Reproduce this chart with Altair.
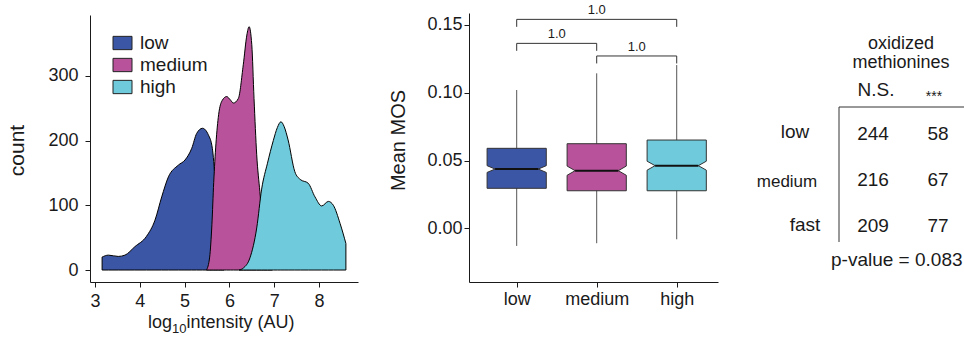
import json
import altair as alt
import pandas as pd

FONT = "Liberation Sans"
W, H = 964, 337
INK = "#1a1a1a"

# ---------------- data ----------------
groups = ["low", "medium", "high"]
group_colors = ["#3C56A6", "#B8529B", "#6FCBDC"]

# density curves (count vs log10 intensity)
low_x = [3.16, 3.30, 3.52, 3.67, 3.89, 4.15, 4.34, 4.49, 4.64, 4.86, 5.01, 5.16, 5.27, 5.40, 5.53, 5.62, 5.68, 5.74, 5.80, 5.88]
low_y = [20, 23, 21, 23, 36, 52, 77, 113, 144, 162, 170, 188, 211, 219, 209, 188, 140, 70, 20, 0]
med_x = [5.49, 5.56, 5.61, 5.65, 5.70, 5.76, 5.84, 5.94, 6.02, 6.09, 6.20, 6.31, 6.39, 6.44, 6.50, 6.55, 6.61, 6.68, 6.76, 6.86, 6.96]
med_y = [0, 20, 70, 135, 195, 240, 262, 268, 263, 258, 265, 317, 363, 376, 348, 265, 178, 121, 55, 15, 0]
high_x = [6.22, 6.31, 6.46, 6.61, 6.72, 6.85, 6.98, 7.07, 7.15, 7.22, 7.31, 7.46, 7.58, 7.76, 7.91, 8.06, 8.21, 8.32, 8.47, 8.60]
high_y = [0, 3, 19, 65, 125, 165, 200, 220, 229, 222, 201, 152, 140, 134, 113, 99, 106, 100, 72, 41]

# notched box plot of mean MOS
box_q1 = [0.0295, 0.0277, 0.0277]
box_median = [0.0437, 0.0425, 0.0462]
box_q3 = [0.0590, 0.0624, 0.0651]
notch_lo = [0.0412, 0.0391, 0.0429]
notch_hi = [0.0462, 0.0459, 0.0495]
whisker_lo = [-0.0130, -0.0110, -0.0081]
whisker_hi = [0.1020, 0.1143, 0.1204]

# significance brackets
bracket_from = ["low", "medium", "low"]
bracket_to = ["medium", "high", "high"]
bracket_level = [0.1364, 0.1271, 0.1541]
bracket_label = ["1.0", "1.0", "1.0"]

# contingency table
table_title = ["oxidized", "methionines"]
table_cols = ["N.S.", "***"]
table_rows = ["low", "medium", "fast"]
counts_ns = [244, 216, 209]
counts_ox = [58, 67, 77]
p_value = 0.083

# ---------------- helpers ----------------
def qscale(domain, rng):
    return alt.Scale(domain=domain, range=rng, nice=False, zero=False)

color_scale = alt.Scale(domain=groups, range=group_colors)
AX = dict(grid=False, domainColor=INK, domainWidth=1, tickColor=INK, tickWidth=1, tickSize=5,
          labelColor=INK, labelFont=FONT, labelFontSize=18, labelFlush=False, labelOverlap=False,
          titleFont=FONT, titleFontWeight="normal", titleColor=INK)
one = pd.DataFrame({"k": [0]})
layers = []

# ---------------- panel 1: density ----------------
P1_XD, P1_XR = [2.89, 8.87], [90, 358]
P1_YD, P1_YR = [-18.5, 394], [282, 15]
ax1x = alt.Axis(orient="bottom", offset=282 - H, values=[3, 4, 5, 6, 7, 8], format="d", title=None,
                labelPadding=5, **AX)
ax1y = alt.Axis(orient="left", offset=-90, values=[0, 100, 200, 300], format="d", title="count",
                titleFontSize=21, titleAngle=270, titleX=17 - 90, titleY=150, titleAlign="center",
                titleBaseline="middle", labelPadding=7, **AX)

curves = {"low": (low_x, low_y), "medium": (med_x, med_y), "high": (high_x, high_y)}
for i, g in enumerate(groups):
    xs, ys = curves[g]
    df = pd.DataFrame({"group": g, "x": xs, "count": ys})
    layers.append(
        alt.Chart(df).mark_area(interpolate="monotone", stroke="black", strokeWidth=1, strokeJoin="round").encode(
            x=alt.X("x:Q", scale=qscale(P1_XD, P1_XR), axis=ax1x if i == 0 else None),
            y=alt.Y("count:Q", scale=qscale(P1_YD, P1_YR), axis=ax1y if i == 0 else None, stack=None),
            y2=alt.datum(0),
            fill=alt.Fill("group:N", scale=color_scale, legend=None),
        )
    )

# legend
KEY = "M-1,-0.7L1,-0.7L1,0.7L-1,0.7Z"
leg_df = pd.DataFrame({"group": groups, "row": list(range(len(groups)))})
leg_y = alt.Y("row:Q", scale=qscale([0, 2], [43, 87]), axis=None)
layers.append(
    alt.Chart(leg_df).mark_point(shape=KEY, size=361, filled=True, stroke="#222", strokeWidth=1, opacity=1).encode(
        x=alt.value(122.5), y=leg_y, fill=alt.Fill("group:N", scale=color_scale, legend=None))
)
layers.append(
    alt.Chart(leg_df).mark_text(align="left", baseline="middle", fontSize=19, color=INK).encode(
        x=alt.value(140), y=leg_y, text="group:N")
)

# x title with subscript
layers.append(alt.Chart(one).mark_text(text="log", align="left", baseline="alphabetic", fontSize=18, color=INK)
              .encode(x=alt.value(148), y=alt.value(328)))
layers.append(alt.Chart(one).mark_text(text="10", align="left", baseline="alphabetic", fontSize=13, color=INK)
              .encode(x=alt.value(172), y=alt.value(333)))
layers.append(alt.Chart(one).mark_text(text="intensity (AU)", align="left", baseline="alphabetic", fontSize=18, color=INK)
              .encode(x=alt.value(186.5), y=alt.value(328)))

# ---------------- panel 2: notched boxes ----------------
P2_XD, P2_XR = [0.404, 3.516], [469, 718]
P2_YD, P2_YR = [-0.0396, 0.1588], [282, 13]
HALF, NOTCH = 0.37, 0.10
labexpr = "%s[datum.value - 1]" % json.dumps(groups)
ax2x = alt.Axis(orient="bottom", offset=282 - H, values=[1, 2, 3], labelExpr=labexpr, title=None,
                labelPadding=3, **AX)
ax2y = alt.Axis(orient="left", offset=-469, values=[0, 0.05, 0.10, 0.15], format=".2f", title="Mean MOS",
                titleFontSize=20, titleAngle=270, titleX=398 - 469, titleY=140, titleAlign="center",
                titleBaseline="middle", labelPadding=2, **AX)

def x2s(field, axis=None):
    return alt.X(field, scale=qscale(P2_XD, P2_XR), axis=axis)

def y2s(field, axis=None):
    return alt.Y(field, scale=qscale(P2_YD, P2_YR), axis=axis)

stat = pd.DataFrame({
    "group": groups, "c": [i + 1 for i in range(len(groups))],
    "q1": box_q1, "med": box_median, "q3": box_q3,
    "nlo": notch_lo, "nhi": notch_hi, "wlo": whisker_lo, "whi": whisker_hi,
})
stat["ml"] = stat["c"] - HALF + NOTCH
stat["mr"] = stat["c"] + HALF - NOTCH

# whiskers (drawn first, box covers the middle)
layers.append(
    alt.Chart(stat).mark_rule(color="#555", strokeWidth=1).encode(
        x=x2s("c:Q", ax2x), y=y2s("wlo:Q", ax2y), y2="whi:Q")
)

for _, r in stat.iterrows():
    pts = [(r.q1, 0), (r.nlo, 0), (r.med, NOTCH), (r.nhi, 0), (r.q3, 0)]
    bdf = pd.DataFrame({
        "group": r.group,
        "v": [p[0] for p in pts],
        "xl": [r.c - HALF + p[1] for p in pts],
        "xr": [r.c + HALF - p[1] for p in pts],
    })
    layers.append(
        alt.Chart(bdf).mark_area(orient="horizontal", interpolate="linear", stroke="#333", strokeWidth=1,
                                 strokeJoin="miter", color=group_colors[groups.index(r.group)]).encode(
            y=y2s("v:Q"),
            x=alt.X("xl:Q", scale=qscale(P2_XD, P2_XR), axis=None, stack=None),
            x2="xr:Q")
    )

layers.append(
    alt.Chart(stat).mark_rule(color="#111", strokeWidth=2).encode(
        x=x2s("ml:Q"), x2="mr:Q", y=y2s("med:Q"))
)

# brackets
TICK = 0.0055
br = pd.DataFrame({
    "x0": [groups.index(g) + 1 for g in bracket_from],
    "x1": [groups.index(g) + 1 for g in bracket_to],
    "lvl": bracket_level, "label": bracket_label,
})
br["xm"] = (br["x0"] + br["x1"]) / 2
br["lo"] = br["lvl"] - TICK
br_ends = pd.concat([br[["x0", "lvl", "lo"]].rename(columns={"x0": "xe"}),
                     br[["x1", "lvl", "lo"]].rename(columns={"x1": "xe"})])
layers.append(alt.Chart(br).mark_rule(color="#333", strokeWidth=1).encode(
    x=x2s("x0:Q"), x2="x1:Q", y=y2s("lvl:Q")))
layers.append(alt.Chart(br_ends).mark_rule(color="#333", strokeWidth=1).encode(
    x=x2s("xe:Q"), y=y2s("lvl:Q"), y2="lo:Q"))
layers.append(alt.Chart(br).mark_text(baseline="bottom", dy=-2, fontSize=13, color=INK).encode(
    x=x2s("xm:Q"), y=y2s("lvl:Q"), text="label:N"))

# ---------------- panel 3: table ----------------
title_df = pd.DataFrame({"t": table_title, "i": list(range(len(table_title)))})
layers.append(alt.Chart(title_df).mark_text(fontSize=18, color=INK, baseline="middle").encode(
    x=alt.value(901), y=alt.Y("i:Q", scale=qscale([0, 1], [44, 63]), axis=None), text="t:N"))

layers.append(alt.Chart(one).mark_text(text=table_cols[0], fontSize=19, color=INK, baseline="middle")
              .encode(x=alt.value(876), y=alt.value(90)))
layers.append(alt.Chart(one).mark_text(text=table_cols[1], fontSize=14, color=INK, baseline="alphabetic")
              .encode(x=alt.value(934), y=alt.value(101)))

# table frame
layers.append(alt.Chart(one).mark_rule(color="#333", strokeWidth=1)
              .encode(x=alt.value(839), y=alt.value(107), y2=alt.value(242)))
layers.append(alt.Chart(one).mark_rule(color="#333", strokeWidth=1)
              .encode(x=alt.value(839), x2=alt.value(964), y=alt.value(107)))

# row labels
row_label_x = [795, 787, 805]
row_label_size = [19, 17, 19]
row_label_y = [132, 182, 225]
for lab, lx, ly, fs in zip(table_rows, row_label_x, row_label_y, row_label_size):
    layers.append(alt.Chart(one).mark_text(text=lab, fontSize=fs, color=INK, baseline="middle")
                  .encode(x=alt.value(lx), y=alt.value(ly)))

cells = pd.DataFrame({
    "r": list(range(3)) * 2,
    "c": [0] * 3 + [1] * 3,
    "n": [str(v) for v in counts_ns] + [str(v) for v in counts_ox],
})
layers.append(alt.Chart(cells).mark_text(fontSize=19, color=INK, baseline="middle").encode(
    x=alt.X("c:Q", scale=qscale([0, 1], [873, 938]), axis=None),
    y=alt.Y("r:Q", scale=qscale([0, 2], [134, 226]), axis=None),
    text="n:N"))

layers.append(alt.Chart(one).mark_text(text="p-value = %s" % p_value, fontSize=19, color=INK,
                                       align="left", baseline="middle")
              .encode(x=alt.value(831), y=alt.value(260)))

chart = (
    alt.layer(*layers)
    .resolve_scale(x="independent", y="independent")
    .resolve_axis(x="independent", y="independent")
    .properties(width=W, height=H, autosize=alt.AutoSizeParams(type="none"), padding=0, background="white")
    .configure(font=FONT)
    .configure_view(stroke=None)
)
chart.save("out.html", embed_options={"renderer": "svg", "actions": False})
